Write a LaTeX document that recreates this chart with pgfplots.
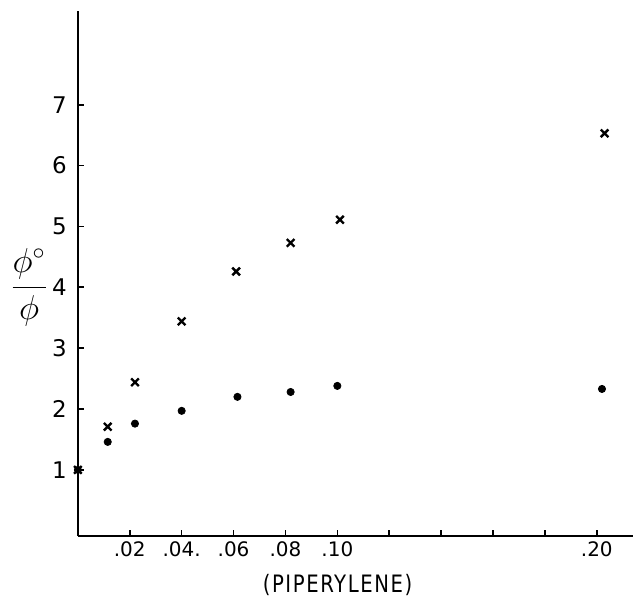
\documentclass[border=0pt]{standalone}
\usepackage{pgfplots}
\pgfplotsset{compat=1.18}
\usepackage{fontspec}
\setmainfont{DejaVu Sans}

% phi0/phi against piperylene concentration
\pgfplotstableread{
x      y
0.000  1.00
0.0115 1.71
0.022  2.44
0.040  3.44
0.061  4.26
0.082  4.73
0.101  5.11
0.203  6.53
}\crosses
\pgfplotstableread{
x      y
0.000  1.00
0.0115 1.46
0.022  1.76
0.040  1.97
0.0615 2.20
0.082  2.28
0.100  2.38
0.202  2.33
}\dots

\begin{document}
\begin{tikzpicture}
\begin{axis}[
    scale only axis,
    width=278pt,
    height=263pt,
    xmin=0, xmax=0.214,
    ymin=-0.09, ymax=8.54,
    axis x line=bottom,
    axis y line=left,
    axis line style={-, line width=0.9pt},
    tick align=inside,
    major tick length=3pt,
    tick style={line width=0.8pt, black},
    xtick={0.02,0.04,0.06,0.08,0.10,0.12,0.14,0.16,0.18,0.20},
    xticklabels={.02,.04.,.06,.08,.10,,,,,.20},
    ytick={1,2,3,4,5,6,7},
    yticklabels={1,2,3,4,5,6,7},
    x tick label style={font=\fontsize{10}{11}\selectfont, yshift=1pt},
    y tick label style={font=\fontsize{11.5}{12}\selectfont, xshift=-2pt},
    xlabel={\scalebox{0.82}[1]{\addfontfeature{LetterSpace=8}(PIPERYLENE)}},
    xlabel style={font=\fontsize{12}{13}\selectfont, xshift=-9pt, yshift=-2pt},
    ylabel={\LARGE$\displaystyle\frac{\phi^{\circ}}{\phi}$},
    ylabel style={at={(axis description cs:-0.088,0.474)}, anchor=center, rotate=-90},
]
\addplot[only marks, mark=x, mark size=2.7pt, line width=1.2pt] table[x=x, y=y] {\crosses};
\addplot[only marks, mark=*, mark size=1.8pt] table[x=x, y=y] {\dots};
\end{axis}
\path (current axis.south west) ++(-39pt,-31pt);
\path (current axis.north east) ++(0,5.5pt);
\end{tikzpicture}
\end{document}
